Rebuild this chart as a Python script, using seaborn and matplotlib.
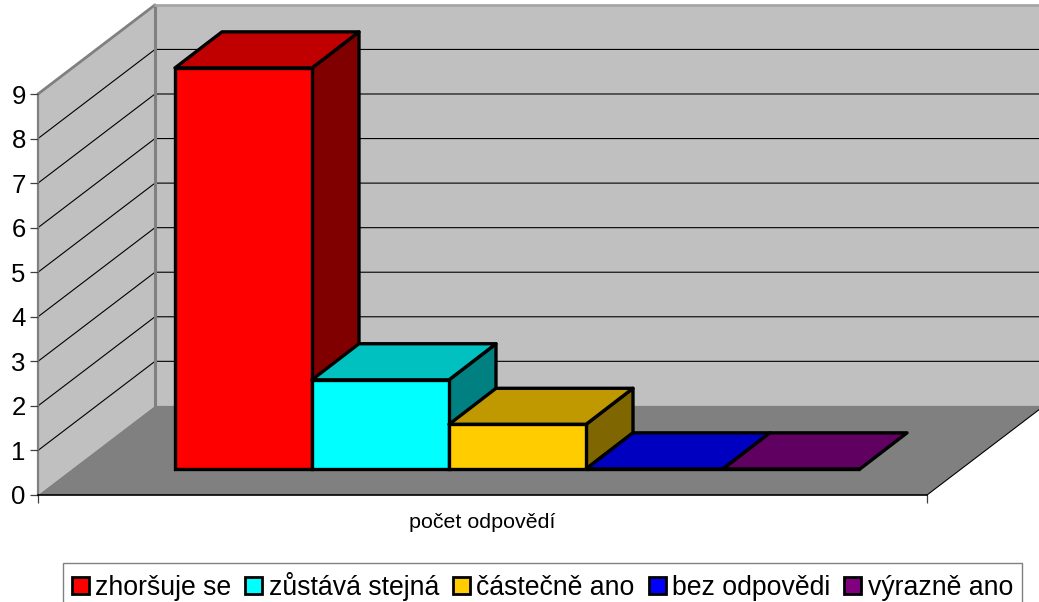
import matplotlib
matplotlib.use("Agg")
import matplotlib.pyplot as plt
from matplotlib.patches import Polygon
import pandas as pd
import seaborn as sns

categories = ["zhoršuje se", "zůstává stejná", "částečně ano", "bez odpovědi", "výrazně ano"]
values = [9, 2, 1, 0, 0]
front_colors = ["#ff0000", "#00ffff", "#ffcc00", "#0000ff", "#800080"]
top_colors = ["#c00000", "#00c0c0", "#c09900", "#0000c0", "#600060"]
side_colors = ["#800000", "#008080", "#806600", "#000080", "#400040"]
y_ticks = list(range(10))
x_label = "počet odpovědí"

W, H = 1039, 602
sns.set_theme(style="white")
plt.rcParams["font.family"] = ["Liberation Sans", "DejaVu Sans"]
plt.rcParams["text.color"] = "black"

fig = plt.figure(figsize=(W / 100, H / 100), dpi=100, facecolor="white")
ax = fig.add_axes([38 / W, (H - 495) / H, 889 / W, 401 / H])
ax.patch.set_visible(False)

XMIN, XMAX, YMAX = -1.5, 4.989, 9
DX, DY = 117 / 137, 2.0          # shift of the full chart depth, in data units
BAR_BASE, BAR_DX, BAR_DY = 0.585, 0.343, 0.81


def back(x, y):
    return (x + DX, y + DY)


df = pd.DataFrame({"kategorie": categories, "hodnota": values})
sns.barplot(data=df, x="kategorie", y="hodnota", hue="kategorie", order=categories,
            hue_order=categories, palette=front_colors, width=1, dodge=False,
            bottom=BAR_BASE, edgecolor="black", linewidth=2.4, saturation=1,
            legend=False, ax=ax, zorder=10)

# walls and floor
ax.add_patch(Polygon([(XMIN, 0), back(XMIN, 0), back(XMIN, YMAX), (XMIN, YMAX)], closed=True,
                     fc="#c0c0c0", ec="none", clip_on=False, zorder=0.1))
ax.add_patch(Polygon([back(XMIN, 0), back(XMAX, 0), back(XMAX, YMAX), back(XMIN, YMAX)], closed=True,
                     fc="#c0c0c0", ec="none", clip_on=False, zorder=0.1))
ax.add_patch(Polygon([(XMIN, 0), (XMAX, 0), back(XMAX, 0), back(XMIN, 0)], closed=True,
                     fc="#808080", ec="none", clip_on=False, zorder=0.2))

# gridlines on both walls
for v in y_ticks[1:-1]:
    bx, by = back(XMIN, v)
    ex, ey = back(XMAX, v)
    ax.plot([XMIN, bx, ex], [v, by, ey], color="black", lw=0.8, clip_on=False, zorder=0.3)

# wall outlines
bx0, by0 = back(XMIN, 0)
bx9, by9 = back(XMIN, YMAX)
ex9, ey9 = back(XMAX, YMAX)
ax.plot([XMIN, bx9], [YMAX, by9], color="#808080", lw=2, clip_on=False, zorder=0.4)
ax.plot([bx0, bx9], [by0, by9], color="#808080", lw=2.2, clip_on=False, zorder=0.4)
ax.plot([bx9, ex9], [by9, ey9], color="#a6a6a6", lw=2, clip_on=False, zorder=0.4)
ex0, ey0 = back(XMAX, 0)
ax.plot([XMAX, ex0], [0, ey0], color="black", lw=0.8, clip_on=False, zorder=0.4)

# depth faces, built from the bars that seaborn drew
bars = [p for c in ax.containers for p in c]
for i, bar in enumerate(bars):
    bar.set_clip_on(False)
    x0, x1 = bar.get_x(), bar.get_x() + bar.get_width()
    y0, y1 = bar.get_y(), bar.get_y() + bar.get_height()
    z = 1 + i * 0.5
    if y1 > y0:
        ax.add_patch(Polygon([(x1, y0), (x1 + BAR_DX, y0 + BAR_DY), (x1 + BAR_DX, y1 + BAR_DY), (x1, y1)],
                             closed=True, fc=side_colors[i], ec="black", lw=2.4, joinstyle="round",
                             clip_on=False, zorder=z))
    ax.add_patch(Polygon([(x0, y1), (x1, y1), (x1 + BAR_DX, y1 + BAR_DY), (x0 + BAR_DX, y1 + BAR_DY)],
                         closed=True, fc=top_colors[i], ec="black", lw=2.4, joinstyle="round",
                         clip_on=False, zorder=z + 0.1))
    bar.set_zorder(z + 0.2 if y1 > y0 else 0.5)

ax.set_xlim(XMIN, XMAX)
ax.set_ylim(0, YMAX)
ax.set_yticks(y_ticks)
ax.set_xticks([XMIN, XMAX], ["", ""])
ax.set_ylabel("")
ax.set_xlabel(x_label, fontsize=15.4, color="black", labelpad=7.5)
ax.tick_params(axis="y", left=True, length=5.8, width=0.9, color="#404040", labelsize=18.5,
               labelcolor="black", pad=3)
ax.tick_params(axis="x", bottom=True, length=5.8, width=0.9, color="#404040", pad=0)
for s in ("top", "right"):
    ax.spines[s].set_visible(False)
ax.spines["left"].set_color("#808080")
ax.spines["left"].set_linewidth(1.6)
ax.spines["left"].set_zorder(0.5)
ax.spines["bottom"].set_color("black")
ax.spines["bottom"].set_linewidth(1.2)

# legend
leg = fig.legend(bars, categories, ncol=5, loc="upper left",
                 bbox_to_anchor=(63 / W, (H - 563) / H), borderaxespad=0, fontsize=19.2,
                 frameon=True, fancybox=False, framealpha=1, edgecolor="#808080",
                 handlelength=0.64, handleheight=0.64, handletextpad=0.24,
                 columnspacing=0.52, borderpad=0.33, labelcolor="black")
leg.get_frame().set_linewidth(1.0)
for h, c in zip(leg.legend_handles, front_colors):
    h.set_facecolor(c)
    h.set_edgecolor("black")
    h.set_linewidth(2)

fig.savefig("out.png", dpi=100, facecolor="white")
